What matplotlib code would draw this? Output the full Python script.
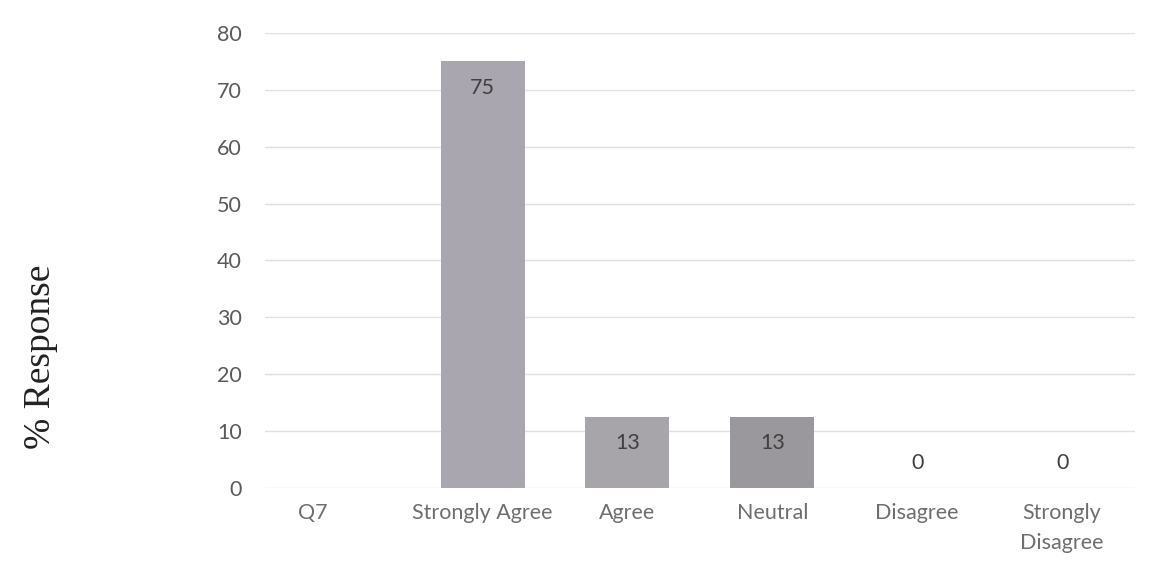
import matplotlib.pyplot as plt
import matplotlib.transforms as mtransforms

categories = ['Q7', 'Strongly Agree', 'Agree', 'Neutral', 'Disagree', 'Strongly\nDisagree']
values = [None, 75, 12.5, 12.5, 0, 0]
value_labels = ['', '75', '13', '13', '0', '0']
bar_colors = ['#ffffff', '#a9a6b0', '#a7a5aa', '#9b989d', '#a0a0a0', '#a0a0a0']

fig = plt.figure(figsize=(11.53, 5.8), dpi=100)
ax = fig.add_axes([0.23, 0.159, 0.754, 0.784])

x = list(range(len(categories)))
for i, v in enumerate(values):
    if v is None:
        continue
    ax.bar(i, v, width=0.58, color=bar_colors[i], zorder=2)
    if value_labels[i]:
        y_text = v - 4.6 if v > 5 else v + 4.4
        ax.text(i, y_text, value_labels[i], ha='center', va='center',
                fontsize=15.5, color='#404040', family='Lato', zorder=3)

ax.set_xlim(-0.5, 5.5)
ax.set_ylim(0, 80)
ax.set_yticks(range(0, 81, 10))
ax.set_xticks(x)
ax.set_xticklabels(categories, fontsize=15.5, color='#6e6e6e', family='Lato',
                   linespacing=1.6)
ax.tick_params(axis='x', length=0, pad=11)
ax.tick_params(axis='y', length=0, pad=17, labelsize=15.5, labelcolor='#5a5a5a')
for lab in ax.get_yticklabels():
    lab.set_family('Lato')

# the Q7 label sits left of its slot in the original
offset = mtransforms.ScaledTranslation(-25 / 100, 0, fig.dpi_scale_trans)
q7 = ax.get_xticklabels()[0]
q7.set_transform(q7.get_transform() + offset)

ax.grid(axis='y', color='#e0e0e0', linewidth=1, zorder=0)
for s in ax.spines.values():
    s.set_visible(False)

fig.text(0.035, 0.385, '% Response', rotation=90, ha='center', va='center',
         fontsize=27, family='Liberation Serif', color='#222222')

fig.savefig('out.png', dpi=100)
